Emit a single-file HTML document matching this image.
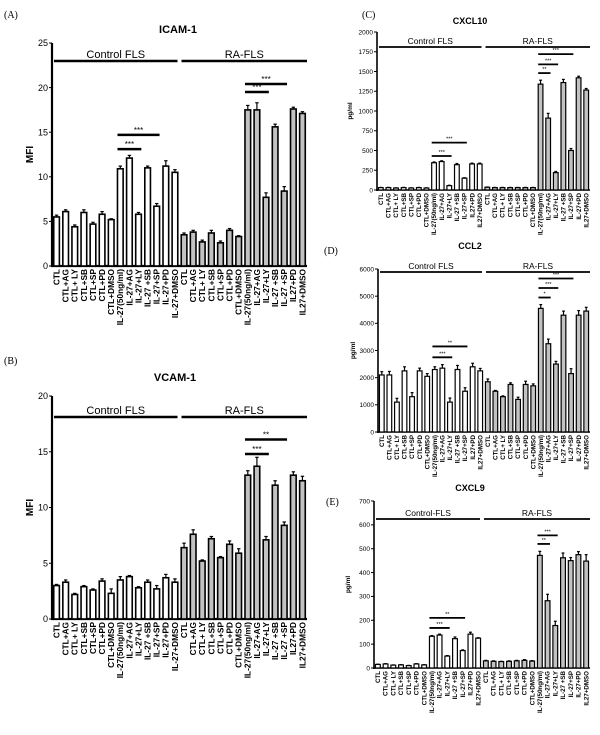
<!DOCTYPE html>
<html><head><meta charset="utf-8"><style>
html,body{margin:0;padding:0;background:#fff}
svg{display:block;font-family:"Liberation Sans",Arial,sans-serif}
</style></head><body>
<svg id="fig" width="600" height="735" viewBox="0 0 600 735"></svg>
<script>
// ---------- data ----------
const labelsAB = ["CTL","CTL+AG","CTL+ LY","CTL+SB","CTL+SP","CTL+PD","CTL+DMSO","IL-27(50ng/ml)","IL-27+AG","IL-27+LY","IL-27 +SB","IL-27+SP","IL-27+PD","IL-27+DMSO","CTL","CTL+AG","CTL+ LY","CTL+SB","CTL+SP","CTL+PD","CTL+DMSO","IL-27(50ng/ml)","IL-27+AG","IL-27+LY","IL-27 +SB","IL-27 +SP","IL27+PD","IL27+DMSO"];
const labelsCDE = ["CTL","CTL+AG","CTL+ LY","CTL+SB","CTL+SP","CTL+PD","CTL+DMSO","IL-27(50ng/ml)","IL-27+AG","IL-27+LY","IL-27 +SB","IL-27+SP","IL27+PD","IL27+DMSO","CTL","CTL+AG","CTL+ LY","CTL+SB","CTL+SP","CTL+PD","CTL+DMSO","IL-27(50ng/ml)","IL-27+AG","IL-27+LY","IL-27 +SB","IL-27+SP","IL-27+PD","IL27+DMSO"];

const icamControl = [5.5,6.1,4.4,6.0,4.7,5.8,5.2,10.9,12.1,5.8,11.0,6.7,11.2,10.5];
const icamRA = [3.5,3.8,2.7,3.7,2.6,4.0,3.3,17.5,17.5,7.7,15.6,8.4,17.6,17.1];
const icamErr = [0.2,0.2,0.2,0.3,0.2,0.3,0.1,0.3,0.3,0.2,0.2,0.3,0.6,0.3,0.2,0.2,0.2,0.3,0.2,0.2,0.1,0.5,0.8,0.5,0.3,0.5,0.2,0.2];
const icamTicks = [0,5,10,15,20,25];

const vcamControl = [3.0,3.3,2.2,2.9,2.6,3.4,2.3,3.5,3.8,2.8,3.3,2.7,3.7,3.3];
const vcamRA = [6.4,7.6,5.2,7.2,5.5,6.7,5.9,12.9,13.7,7.1,12.0,8.4,12.9,12.4];
const vcamErr = [0.1,0.2,0.1,0.1,0.1,0.2,0.4,0.3,0.1,0.1,0.2,0.3,0.3,0.3,0.4,0.4,0.1,0.2,0.1,0.3,0.4,0.4,0.8,0.3,0.4,0.3,0.3,0.4];
const vcamTicks = [0,5,10,15,20];

const cxcl10Control = [30,30,25,30,25,30,25,345,360,55,320,150,330,330];
const cxcl10RA = [35,30,30,30,30,30,30,1340,910,220,1360,500,1420,1265];
const cxcl10Err = [3,3,3,3,3,3,3,10,10,5,15,5,10,10,3,3,3,3,3,3,3,50,60,15,40,25,20,20];
const cxcl10Ticks = [0,250,500,750,1000,1250,1500,1750,2000];

const ccl2Control = [2100,2100,1100,2250,1300,2250,2050,2300,2350,1100,2300,1500,2400,2250];
const ccl2RA = [1850,1500,1300,1750,1200,1750,1700,4550,3250,2500,4300,2150,4300,4450];
const ccl2Err = [120,130,140,150,150,100,100,100,130,150,150,130,130,90,100,30,30,60,80,120,70,140,170,100,150,180,170,140];
const ccl2Ticks = [0,1000,2000,3000,4000,5000,6000];

const cxcl9Control = [15,17,12,13,10,17,13,133,138,50,123,73,142,125];
const cxcl9RA = [30,28,27,28,30,32,29,472,282,178,462,450,475,448];
const cxcl9Err = [1,1,1,1,1,1,1,3,4,2,7,3,8,2,2,2,1,2,2,3,2,17,27,18,20,13,13,27];
const cxcl9Ticks = [0,100,200,300,400,500,600,700];

// significance: [fromBar, toBar, value, label]
const icamSig = [[7,9,13.1,"***"],[7,11,14.7,"***"],[21,23,19.5,"***"],[21,25,20.4,"***"]];
const vcamSig = [[21,23,14.8,"***"],[21,25,16.1,"**"]];
const cxcl10Sig = [[7,9,430,"***"],[7,11,600,"***"],[21,22,1480,"**"],[21,23,1590,"***"],[21,25,1720,"***"]];
const ccl2Sig = [[7,9,2750,"***"],[7,11,3150,"**"],[21,22,4950,"*"],[21,23,5300,"***"],[21,25,5650,"***"]];
const cxcl9Sig = [[7,9,168,"***"],[7,11,210,"**"],[21,22,520,"**"],[21,23,556,"***"]];

// ---------- drawing ----------
const NS = "http://www.w3.org/2000/svg";
const svg = document.getElementById("fig");
function mk(tag, attrs, parent, txt){
  const e = document.createElementNS(NS, tag);
  for (const k in attrs) e.setAttribute(k, attrs[k]);
  if (txt !== undefined) e.textContent = txt;
  (parent || svg).appendChild(e);
  return e;
}

function panel(p){
  const g = mk("g", {});
  
  
  const values = p.control.concat(p.ra);
  const max = p.ticks[p.ticks.length-1];
  const y = v => p.y0 - (v/max)*(p.y0 - p.yTop);
  const n = values.length;
  const step = (p.x1 - p.x0)/n;
  const xc = i => p.x0 + step*(i+0.5);
  const bw = step*0.62;
  const t = mk("text", {x:p.titleX, y:p.titleY, "text-anchor":"middle", "font-size":p.titleSize, "font-weight":"bold"}, g, p.title);
  
  
  const pl = mk("text", {x:p.letterX, y:p.letterY, "font-size":10, "font-family":"Liberation Serif, serif"}, g, p.letter);
  
  
  const yt = mk("text", {x:p.yTitleX, y:(p.y0+p.yTop)/2, "text-anchor":"middle", "font-size":p.yTitleSize, "font-weight":"bold", transform:`rotate(-90 ${p.yTitleX} ${(p.y0+p.yTop)/2})`}, g, p.yTitle);
  
  
  const ya = mk("line", {x1:p.x0, y1:p.yTop, x2:p.x0, y2:p.y0+1, stroke:"#000", "stroke-width":p.axisW}, g);
  
  
  const xa = mk("line", {x1:p.x0-1, y1:p.y0, x2:p.x1, y2:p.y0, stroke:"#000", "stroke-width":p.axisW}, g);
  
  
  p.ticks.forEach(tv => {
    const tl = mk("line", {x1:p.x0-3, y1:y(tv), x2:p.x0, y2:y(tv), stroke:"#000", "stroke-width":1}, g);
    
    
    const tx = mk("text", {x:p.x0-4, y:y(tv)+p.tickSize*0.35, "text-anchor":"end", "font-size":p.tickSize}, g, String(tv));
    
    
  });
  const half = p.x0 + step*14;
  [[p.x0+2, half-2, p.groupNames[0]], [half+2, p.x1, p.groupNames[1]]].forEach(gr => {
    const gl = mk("line", {x1:gr[0], y1:p.groupY, x2:gr[1], y2:p.groupY, stroke:"#000", "stroke-width":p.groupW}, g);
    
    
    const gt = mk("text", {x:(gr[0]+gr[1])/2, y:p.groupY-3, "text-anchor":"middle", "font-size":p.groupSize}, g, gr[2]);
    
    
  });
  values.forEach((v, i) => {
    const e = p.err[i];
    const el = mk("line", {x1:xc(i), y1:y(v), x2:xc(i), y2:y(v+e), stroke:"#000", "stroke-width":1.2}, g);
    
    
    const ec = mk("line", {x1:xc(i)-bw*0.3, y1:y(v+e), x2:xc(i)+bw*0.3, y2:y(v+e), stroke:"#000", "stroke-width":1.2}, g);
    
    
    const r = mk("rect", {x:xc(i)-bw/2, y:y(v), width:bw, height:Math.max(0.5, p.y0-y(v)), fill: i<14 ? "#fff" : "#c2c2c2", stroke:"#000", "stroke-width":p.barStroke}, g);
    
    
    const lx = xc(i) + p.labelSize*0.35, ly = p.y0 + 3;
    const lt = mk("text", {x:lx, y:ly, "text-anchor":"end", "font-size":p.labelSize, "font-weight":"bold", transform:`rotate(-90 ${lx} ${ly})`}, g, p.labels[i]);
    
    
  });
  p.sig.forEach(s => {
    const sy = y(s[2]);
    const sl = mk("line", {x1:xc(s[0])-bw/2, y1:sy, x2:xc(s[1])+bw/2, y2:sy, stroke:"#000", "stroke-width":p.groupW}, g);
    
    
    const st = mk("text", {x:(xc(s[0])+xc(s[1]))/2, y:sy-2, "text-anchor":"middle", "font-size":p.tickSize-1}, g, s[3]);
    
    
  });
}

const big = {x0:52, x1:307, axisW:2.2, barStroke:1.6, groupW:2.5, tickSize:9, labelSize:8.3, groupSize:11, titleSize:11, yTitleSize:10, yTitleX:33, labels:labelsAB};
const small = {axisW:1.6, barStroke:1.2, groupW:1.8, tickSize:6.5, labelSize:6.2, groupSize:8.5, titleSize:9, yTitleSize:6.5, labels:labelsCDE};

panel(Object.assign({}, big, {name:"icam", title:"ICAM-1", titleX:178, titleY:33, letter:"(A)", letterX:4, letterY:18, yTitle:"MFI", y0:266, yTop:43, groupY:61, groupNames:["Control FLS","RA-FLS"], control:icamControl, ra:icamRA, err:icamErr, ticks:icamTicks, sig:icamSig}));
panel(Object.assign({}, big, {name:"vcam", title:"VCAM-1", titleX:175, titleY:381, letter:"(B)", letterX:4, letterY:364, yTitle:"MFI", y0:619, yTop:396, groupY:417, groupNames:["Control FLS","RA-FLS"], control:vcamControl, ra:vcamRA, err:vcamErr, ticks:vcamTicks, sig:vcamSig}));
panel(Object.assign({}, small, {name:"cxcl10", title:"CXCL10", titleX:470, titleY:24, letter:"(C)", letterX:362, letterY:18, yTitle:"pg/ml", yTitleX:352, x0:377, x1:590, y0:190, yTop:32, groupY:47, groupNames:["Control FLS","RA-FLS"], control:cxcl10Control, ra:cxcl10RA, err:cxcl10Err, ticks:cxcl10Ticks, sig:cxcl10Sig}));
panel(Object.assign({}, small, {name:"ccl2", title:"CCL2", titleX:470, titleY:249, letter:"(D)", letterX:324, letterY:254, yTitle:"pg/ml", yTitleX:355, x0:378, x1:590, y0:432, yTop:269, groupY:272, groupNames:["Control FLS","RA-FLS"], control:ccl2Control, ra:ccl2RA, err:ccl2Err, ticks:ccl2Ticks, sig:ccl2Sig}));
panel(Object.assign({}, small, {name:"cxcl9", title:"CXCL9", titleX:470, titleY:491, letter:"(E)", letterX:326, letterY:505, yTitle:"pg/ml", yTitleX:350, x0:374, x1:590, y0:668, yTop:501, groupY:519, groupNames:["Control-FLS","RA-FLS"], control:cxcl9Control, ra:cxcl9RA, err:cxcl9Err, ticks:cxcl9Ticks, sig:cxcl9Sig}));
</script>
</body></html>
